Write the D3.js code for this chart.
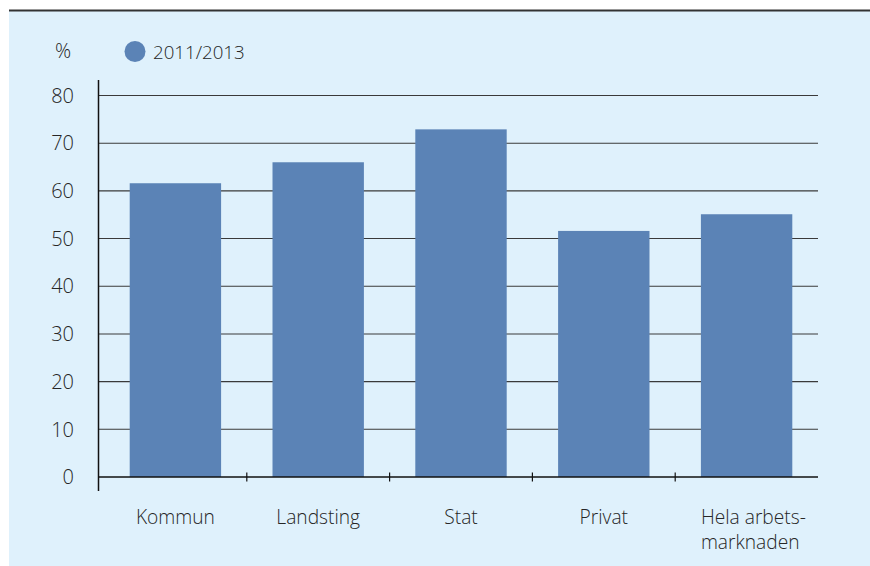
<!DOCTYPE html>
<html>
<head>
<meta charset="utf-8">
<script src="https://cdn.jsdelivr.net/npm/d3@7"></script>
<style>
  html, body { margin: 0; padding: 0; background: #ffffff; }
  svg { display: block; }
  text { font-family: "Open Sans", "Noto Sans", sans-serif; font-weight: 300; fill: #262626; }
</style>
</head>
<body>
<svg id="chart" width="870" height="566"></svg>
<script>
const categories = ["Kommun", "Landsting", "Stat", "Privat", "Hela arbets-\nmarknaden"];
const values = [61.6, 66.0, 72.9, 51.6, 55.1];
const seriesName = "2011/2013";
const yTicks = [0, 10, 20, 30, 40, 50, 60, 70, 80];
const unitLabel = "%";

const svg = d3.select("#chart");
const W = 870, H = 566;
const barColor = "#5b83b6";

svg.append("rect").attr("x", 9).attr("y", 11).attr("width", W - 9).attr("height", H - 11).attr("fill", "#dff1fc");
svg.append("line").attr("x1", 9).attr("x2", W).attr("y1", 10.5).attr("y2", 10.5)
  .attr("stroke", "#333").attr("stroke-width", 2);

const x0 = 104, x1 = 818, yAxisX = 98.5;
const y = d3.scaleLinear().domain([0, 80]).range([477, 95.5]);
const x = d3.scaleBand().domain(categories).range([x0, x1]).paddingInner(0.36).paddingOuter(0.18);

svg.append("g").selectAll("line").data(yTicks.filter(d => d > 0)).join("line")
  .attr("x1", yAxisX).attr("x2", x1)
  .attr("y1", d => y(d)).attr("y2", d => y(d))
  .attr("stroke", "#3a3a3a").attr("stroke-width", 1.1);

svg.append("g").selectAll("text").data(yTicks).join("text")
  .attr("x", 74).attr("y", d => y(d)).attr("dy", "0.36em")
  .attr("text-anchor", "end").style("font-size", "20px").text(d => d);

svg.append("g").selectAll("rect").data(values).join("rect")
  .attr("x", (d, i) => x(categories[i])).attr("width", x.bandwidth())
  .attr("y", d => y(d)).attr("height", d => y(0) - y(d))
  .attr("fill", barColor);

svg.append("line").attr("x1", yAxisX).attr("x2", x1).attr("y1", y(0)).attr("y2", y(0))
  .attr("stroke", "#111").attr("stroke-width", 1.5);
svg.append("line").attr("x1", yAxisX).attr("x2", yAxisX).attr("y1", 80).attr("y2", 491)
  .attr("stroke", "#111").attr("stroke-width", 1.5);

const step = (x1 - x0) / categories.length;
const boundaries = d3.range(1, categories.length).map(i => x0 + i * step);
svg.append("g").selectAll("line").data(boundaries).join("line")
  .attr("x1", d => d).attr("x2", d => d).attr("y1", y(0) - 4.5).attr("y2", y(0) + 4.5)
  .attr("stroke", "#111").attr("stroke-width", 1.2);

const lab = svg.append("g");
categories.forEach((c, i) => {
  const lines = c.split("\n");
  if (lines.length === 1) {
    lab.append("text").attr("x", x(c) + x.bandwidth() / 2).attr("y", 524)
      .attr("text-anchor", "middle").style("font-size", "19.2px").text(c);
  } else {
    lines.forEach((l, j) => {
      lab.append("text").attr("x", x(c)).attr("y", 524 + j * 24.5)
        .attr("text-anchor", "start").style("font-size", "19.2px").text(l);
    });
  }
});

svg.append("text").attr("x", 55).attr("y", 58).style("font-size", "20px").text(unitLabel);
svg.append("circle").attr("cx", 135).attr("cy", 51.5).attr("r", 10.5).attr("fill", barColor);
svg.append("text").attr("x", 153).attr("y", 58.5).style("font-size", "18.7px").text(seriesName);
</script>
</body>
</html>
